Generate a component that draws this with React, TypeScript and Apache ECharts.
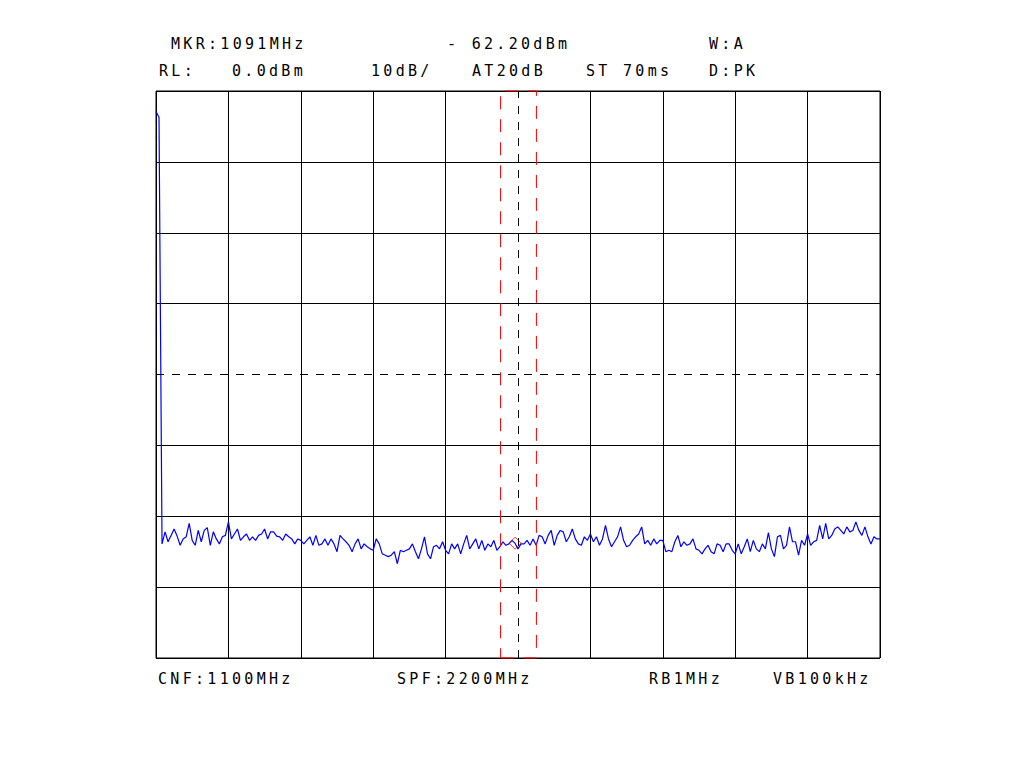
import React, { useEffect, useRef } from "react";
import * as echarts from "echarts";

// ---- instrument settings (data) ----
const START_MHZ = 0;
const STOP_MHZ = 2200;
const X_STEP_MHZ = 220;
const Y_MIN_DBM = -80;
const Y_MAX_DBM = 0;
const Y_STEP_DB = 10;
const CENTER_MHZ = 1100;
const MARKER_MHZ = 1091;
const MARKER_DBM = -63.8;
const WINDOW_LOW_MHZ = 1047;
const WINDOW_HIGH_MHZ = 1156;
const DISPLAY_LINE_DBM = -40;

// ---- trace (dBm), evenly spaced from START_MHZ to STOP_MHZ ----
const TRACE_DBM = [
  -2.9, -3.7, -63.9, -62.2, -63.6, -62.7, -61.8, -62.8, -64.1, -63.2,
  -62.9, -61.0, -63.4, -64.1, -62.0, -63.6, -62.0, -61.6, -64.1, -62.2,
  -63.2, -63.9, -62.9, -62.7, -60.8, -63.2, -62.5, -61.8, -63.4, -62.9,
  -62.5, -63.4, -62.9, -63.4, -62.7, -62.5, -61.8, -63.2, -62.2, -62.2,
  -62.8, -62.9, -63.4, -62.5, -62.9, -63.2, -63.9, -63.2, -63.4, -63.9,
  -63.4, -62.9, -64.1, -62.7, -64.1, -63.9, -63.2, -64.1, -63.2, -63.9,
  -65.0, -62.7, -63.2, -63.6, -64.1, -65.0, -63.9, -63.2, -64.6, -63.9,
  -64.3, -64.6, -64.8, -63.2, -63.9, -65.3, -65.5, -65.7, -65.5, -65.0,
  -66.7, -64.8, -65.0, -64.8, -64.6, -63.9, -65.0, -66.0, -64.6, -62.9,
  -65.3, -66.0, -64.3, -64.1, -64.6, -63.6, -64.8, -65.3, -63.9, -64.6,
  -63.9, -65.3, -63.9, -62.7, -64.6, -63.9, -63.2, -64.6, -63.4, -64.8,
  -63.9, -64.3, -63.4, -64.8, -64.3, -63.6, -64.1, -63.9, -63.4, -63.8,
  -64.6, -63.9, -63.9, -63.4, -64.1, -63.2, -64.1, -62.7, -62.9, -63.9,
  -62.7, -62.0, -64.1, -62.7, -62.0, -62.2, -63.6, -62.9, -61.8, -63.2,
  -63.9, -64.1, -62.9, -63.4, -62.5, -63.6, -62.9, -64.1, -63.2, -61.3,
  -63.2, -64.3, -63.6, -62.9, -61.5, -63.4, -64.3, -64.1, -63.4, -62.9,
  -62.5, -61.5, -63.9, -63.4, -64.1, -63.2, -63.9, -63.4, -63.4, -65.0,
  -64.8, -65.0, -63.6, -62.7, -64.3, -63.6, -64.1, -63.9, -63.2, -64.6,
  -64.8, -65.3, -64.6, -64.1, -65.0, -65.3, -63.9, -64.1, -65.0, -63.9,
  -63.9, -64.8, -65.3, -63.9, -65.3, -64.3, -63.2, -65.0, -63.4, -64.6,
  -65.0, -63.9, -64.6, -62.3, -64.6, -65.7, -62.9, -62.7, -64.6, -64.1,
  -61.5, -63.6, -63.6, -65.5, -63.4, -64.1, -62.5, -64.1, -63.6, -63.4,
  -61.3, -63.2, -61.0, -63.2, -62.7, -61.8, -61.5, -62.0, -62.5, -61.5,
  -62.2, -62.0, -60.8, -62.0, -62.7, -61.5, -62.9, -63.9, -62.9, -63.2,
  -63.2,
];

// ---- annotation texts ----
const TOP_ROW_1 = ["MKR:1091MHz", "- 62.20dBm", "W:A"];
const TOP_ROW_2 = ["RL:", "0.0dBm", "10dB/", "AT20dB", "ST 70ms", "D:PK"];
const BOTTOM_ROW = ["CNF:1100MHz", "SPF:2200MHz", "RB1MHz", "VB100kHz"];

const TOP_ROW_1_X = [171, 447, 709];
const TOP_ROW_2_X = [159, 232, 371, 472, 586, 709];
const BOTTOM_ROW_X = [158, 397, 649, 773];

const FONT = "'DejaVu Sans Mono', 'Liberation Mono', monospace";

function makeText(text: string, x: number, y: number) {
  return {
    type: "text",
    x,
    y,
    silent: true,
    style: {
      text,
      fill: "#000",
      fontSize: 15,
      fontFamily: FONT,
      textAlign: "left",
      textVerticalAlign: "middle",
    },
  };
}

export default function App() {
  const ref = useRef<HTMLDivElement>(null);

  useEffect(() => {
    if (!ref.current) return;
    const chart = echarts.init(ref.current, undefined, { renderer: "svg" });

    const n = TRACE_DBM.length;
    const step = (STOP_MHZ - START_MHZ) / (n - 1);
    const traceData = TRACE_DBM.map((v, i) => [START_MHZ + i * step, v]);

    const xLineCount = (STOP_MHZ - START_MHZ) / X_STEP_MHZ + 1;
    const xColors: string[] = [];
    for (let i = 0; i < xLineCount; i++) {
      const f = START_MHZ + i * X_STEP_MHZ;
      xColors.push(f === CENTER_MHZ ? "rgba(0,0,0,0)" : "#000");
    }
    const yLineCount = (Y_MAX_DBM - Y_MIN_DBM) / Y_STEP_DB + 1;
    const yColors: string[] = [];
    for (let i = 0; i < yLineCount; i++) {
      const v = Y_MIN_DBM + i * Y_STEP_DB;
      yColors.push(v === DISPLAY_LINE_DBM ? "rgba(0,0,0,0)" : "#000");
    }

    const graphics: any[] = [];
    TOP_ROW_1.forEach((t, i) => graphics.push(makeText(t, TOP_ROW_1_X[i], 43.5)));
    TOP_ROW_2.forEach((t, i) => graphics.push(makeText(t, TOP_ROW_2_X[i], 70.5)));
    BOTTOM_ROW.forEach((t, i) => graphics.push(makeText(t, BOTTOM_ROW_X[i], 679)));

    chart.setOption({
      animation: false,
      backgroundColor: "#fff",
      grid: {
        left: 156,
        top: 91,
        width: 724,
        height: 567,
        show: true,
        borderColor: "#000",
        borderWidth: 1,
        backgroundColor: "transparent",
      },
      xAxis: {
        type: "value",
        min: START_MHZ,
        max: STOP_MHZ,
        interval: X_STEP_MHZ,
        axisLine: { show: false },
        axisTick: { show: false },
        axisLabel: { show: false },
        splitLine: { show: true, lineStyle: { color: xColors, width: 1 } },
      },
      yAxis: {
        type: "value",
        min: Y_MIN_DBM,
        max: Y_MAX_DBM,
        interval: Y_STEP_DB,
        axisLine: { show: false },
        axisTick: { show: false },
        axisLabel: { show: false },
        splitLine: { show: true, lineStyle: { color: yColors, width: 1 } },
      },
      graphic: graphics,
      series: [
        {
          type: "line",
          data: traceData,
          showSymbol: false,
          symbol: "none",
          silent: true,
          z: 2,
          lineStyle: { color: "#0000ff", width: 1.2 },
        },
        {
          type: "scatter",
          data: [[MARKER_MHZ, MARKER_DBM]],
          symbol: "diamond",
          symbolSize: [12, 12],
          silent: true,
          z: 6,
          itemStyle: { color: "rgba(0,0,0,0)", borderColor: "#ff0000", borderWidth: 1 },
          markArea: {
            silent: true,
            z: 8,
            itemStyle: {
              color: "rgba(0,0,0,0)",
              borderColor: "#ff0000",
              borderWidth: 1,
              borderType: [13, 10],
            },
            label: { show: false },
            data: [[{ xAxis: WINDOW_LOW_MHZ }, { xAxis: WINDOW_HIGH_MHZ }]],
          },
          markLine: {
            silent: true,
            z: 7,
            symbol: ["none", "none"],
            label: { show: false },
            lineStyle: { color: "#000", width: 1, type: [8, 8] },
            data: [{ xAxis: CENTER_MHZ }, { yAxis: DISPLAY_LINE_DBM }],
          },
        },
      ],
    });

    const spaceLetters = () => {
      if (!ref.current) return;
      ref.current.querySelectorAll("text").forEach((t) => {
        t.setAttribute("letter-spacing", "3.3");
      });
    };
    spaceLetters();
    chart.on("finished", spaceLetters);

    return () => {
      chart.dispose();
    };
  }, []);

  return (
    <div
      ref={ref}
      style={{ position: "absolute", left: 0, top: 0, width: 1024, height: 768 }}
    />
  );
}
